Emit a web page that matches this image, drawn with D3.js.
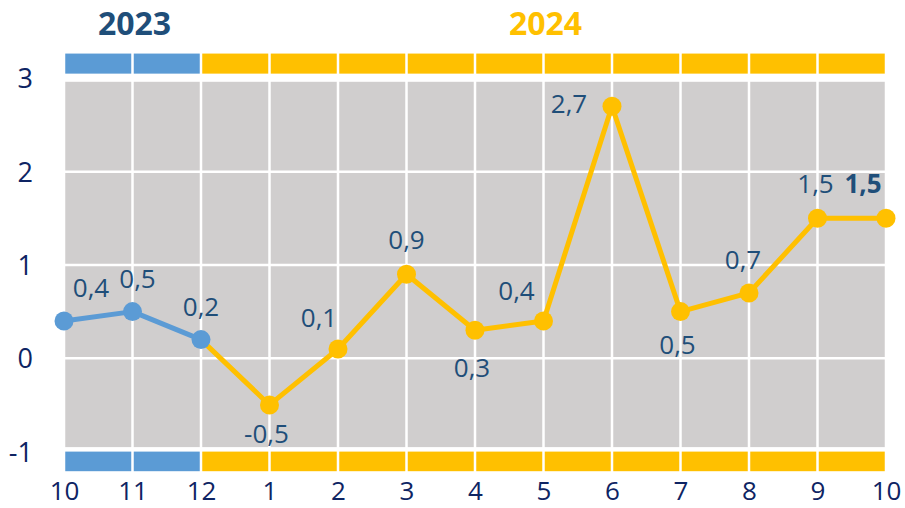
<!DOCTYPE html>
<html>
<head>
<meta charset="utf-8">
<script src="https://cdn.jsdelivr.net/npm/d3@7"></script>
<style>
  html, body { margin: 0; padding: 0; background: #ffffff; }
  svg { display: block; font-family: "Open Sans", "Noto Sans", sans-serif; }
</style>
</head>
<body>
<svg id="chart" width="905" height="508"></svg>
<script>
// ---- data ----
const months = ["10", "11", "12", "1", "2", "3", "4", "5", "6", "7", "8", "9", "10"];
const years = ["2023", "2023", "2023", "2024", "2024", "2024", "2024", "2024", "2024", "2024", "2024", "2024", "2024"];
const values = [0.4, 0.5, 0.2, -0.5, 0.1, 0.9, 0.3, 0.4, 2.7, 0.5, 0.7, 1.5, 1.5];
const yTicks = [-1, 0, 1, 2, 3];
const yearNames = ["2023", "2024"];

// ---- layout / style ----
const W = 905, H = 508;
const colors = { "2023": "#5B9BD5", "2024": "#FFC000" };
const yearTextColors = { "2023": "#1F4E79", "2024": "#FFC000" };
const grey = "#D0CECE";
const labelColor = "#1F4E79";
const axisColor = "#0E2463";
// label offsets relative to the point (layout, not data)
const labelOffsets = [
  [27, -34], [5, -34], [0, -34], [-3, 28], [-19, -32], [0, -35], [-3, 37],
  [-27, -31], [-43, -3], [-3, 32], [-6, -34], [-2, -35], [-23, -35]
];

const svg = d3.select("#chart");
const idx = d3.range(values.length);

const x = d3.scalePoint().domain(idx).range([64, 886]);
const y = d3.scaleLinear().domain([-1, 3]).range([451.6, 78.3]);

// grey plot background
svg.append("rect")
  .attr("x", x(0) + 1).attr("y", y(3) + 3.5)
  .attr("width", x(idx.length - 1) - x(0) - 2)
  .attr("height", y(-1) - y(3) - 8)
  .attr("fill", grey);

// gridlines
const grid = svg.append("g");
grid.selectAll("line.v").data(idx).join("line")
  .attr("x1", d => x(d)).attr("x2", d => x(d))
  .attr("y1", y(3)).attr("y2", y(-1))
  .attr("stroke", "#fff").attr("stroke-width", 2.5);
grid.selectAll("line.h").data([0, 1, 2]).join("line")
  .attr("x1", x(0)).attr("x2", x(idx.length - 1))
  .attr("y1", d => y(d)).attr("y2", d => y(d))
  .attr("stroke", "#fff").attr("stroke-width", 2.5);

// year bands (top and bottom)
const cells = idx.slice(0, -1);
function band(v0, v1) {
  svg.append("g").selectAll("rect").data(cells).join("rect")
    .attr("x", d => x(d) + 1.25)
    .attr("width", d => x(d + 1) - x(d) - 2.5)
    .attr("y", y(v1)).attr("height", y(v0) - y(v1))
    .attr("fill", d => colors[years[d + 1] === years[d] ? years[d] : years[d + 1]]);
}
band(3.05, 3.265);
band(-1.21, -1.0);

// year labels centred over their band spans
yearNames.forEach(yr => {
  const first = years.indexOf(yr);
  const last = years.lastIndexOf(yr);
  const start = first === 0 ? first : first - 1;
  const cx = (x(start) + x(last)) / 2;
  svg.append("text")
    .attr("x", cx + 2).attr("y", 22.5)
    .attr("text-anchor", "middle").attr("dominant-baseline", "central")
    .attr("font-size", 32).attr("font-weight", 700)
    .attr("fill", yearTextColors[yr])
    .text(yr);
});

// axes
const yAxis = d3.axisLeft(y).tickValues(yTicks).tickSize(0).tickPadding(0)
  .tickFormat(d => String(d));
svg.append("g").attr("transform", "translate(33,0)").call(yAxis)
  .call(g => g.select(".domain").remove())
  .call(g => g.selectAll("text").attr("font-size", 27).attr("fill", axisColor)
    .attr("font-family", "'Open Sans', sans-serif").attr("dy", "0.35em"));

const xAxis = d3.axisBottom(x).tickSize(0).tickPadding(0).tickFormat(i => months[i]);
svg.append("g").attr("transform", "translate(0,481.5)").call(xAxis)
  .call(g => g.select(".domain").remove())
  .call(g => g.selectAll("text").attr("font-size", 26).attr("fill", axisColor)
    .attr("font-family", "'Open Sans', sans-serif").attr("dy", "0.71em"));

// lines
const line = d3.line().x(d => x(d)).y(d => y(values[d]));
const blueIdx = idx.filter(i => years[i] === "2023");
const yellowIdx = [blueIdx[blueIdx.length - 1]].concat(idx.filter(i => years[i] === "2024"));
svg.append("path").datum(yellowIdx).attr("d", line)
  .attr("fill", "none").attr("stroke", colors["2024"]).attr("stroke-width", 5)
  .attr("stroke-linejoin", "round");
svg.append("path").datum(blueIdx).attr("d", line)
  .attr("fill", "none").attr("stroke", colors["2023"]).attr("stroke-width", 5)
  .attr("stroke-linejoin", "round");

// markers
svg.append("g").selectAll("circle").data(idx).join("circle")
  .attr("cx", d => x(d)).attr("cy", d => y(values[d])).attr("r", 9.5)
  .attr("fill", d => colors[years[d]]);

// data labels
svg.append("g").selectAll("text").data(idx).join("text")
  .attr("x", d => x(d) + labelOffsets[d][0])
  .attr("y", d => y(values[d]) + labelOffsets[d][1])
  .attr("text-anchor", "middle").attr("dominant-baseline", "central")
  .attr("font-size", 26)
  .attr("font-weight", d => d === idx.length - 1 ? 700 : 400)
  .attr("fill", labelColor)
  .text(d => String(values[d]).replace(".", ","));
</script>
</body>
</html>
